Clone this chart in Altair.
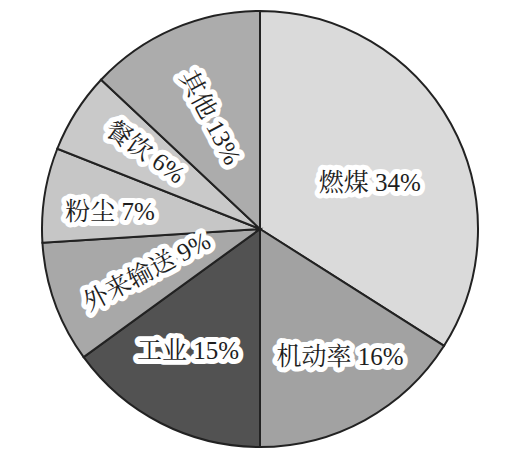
import altair as alt
import pandas as pd

categories = ["燃煤", "机动率", "工业", "外来输送", "粉尘", "餐饮", "其他"]
values = [34, 16, 15, 9, 7, 6, 13]
fills = ["#dadada", "#a2a2a2", "#525252", "#a8a8a8", "#c6c6c6", "#c9c9c9", "#acacac"]

label_texts = ["燃煤 34%", "机动率 16%", "工业 15%", "外来输送 9%", "粉尘 7%", "餐饮 6%", "其他 13%"]
label_theta = [67.3, 148.0, 210.5, 249.2, 276.5, 303.8, 335.8]
label_radius = [119, 151, 142, 121, 151, 138, 122]
label_rot = [0, 0, 0, 332, 0, 35, 62]

R = 218
CX, CY = 252, 221

df = pd.DataFrame({"cat": categories, "val": values, "order": list(range(len(values)))})
lab = pd.DataFrame({"text": label_texts, "th": label_theta, "r": label_radius, "rot": label_rot})

pie = alt.Chart(df).mark_arc(outerRadius=R, stroke="#222222", strokeWidth=2).encode(
    theta=alt.Theta("val:Q", stack=True, scale=alt.Scale(domain=[0, 100], range=[0, 6.283185])),
    order=alt.Order("order:Q"),
    color=alt.Color("cat:N", scale=alt.Scale(domain=categories, range=fills), legend=None),
    x=alt.value(CX),
    y=alt.value(CY),
)

font = "Liberation Serif, Noto Serif CJK SC, Noto Sans CJK SC"

base_text = alt.Chart(lab).encode(
    theta=alt.Theta("th:Q", stack=None, scale=alt.Scale(domain=[0, 360], range=[0, 6.283185])),
    radius=alt.Radius("r:Q", scale=alt.Scale(type="linear", domain=[0, R], range=[0, R], zero=True)),
    angle=alt.Angle("rot:Q", scale=None),
    text="text:N",
    x=alt.value(CX),
    y=alt.value(CY),
)

halo = base_text.mark_text(fontSize=25, font=font, stroke="white", strokeWidth=10,
                           fill="white", strokeJoin="round")
txt = base_text.mark_text(fontSize=25, font=font, fill="#1e1e1e")

chart = alt.layer(pie, halo, txt).resolve_scale(
    theta="independent", radius="independent"
).properties(
    width=496, height=452, padding=0, autosize=alt.AutoSizeParams(type="none")
).configure_view(stroke=None)

chart.save("out.html", embed_options={"renderer": "svg", "actions": False})
